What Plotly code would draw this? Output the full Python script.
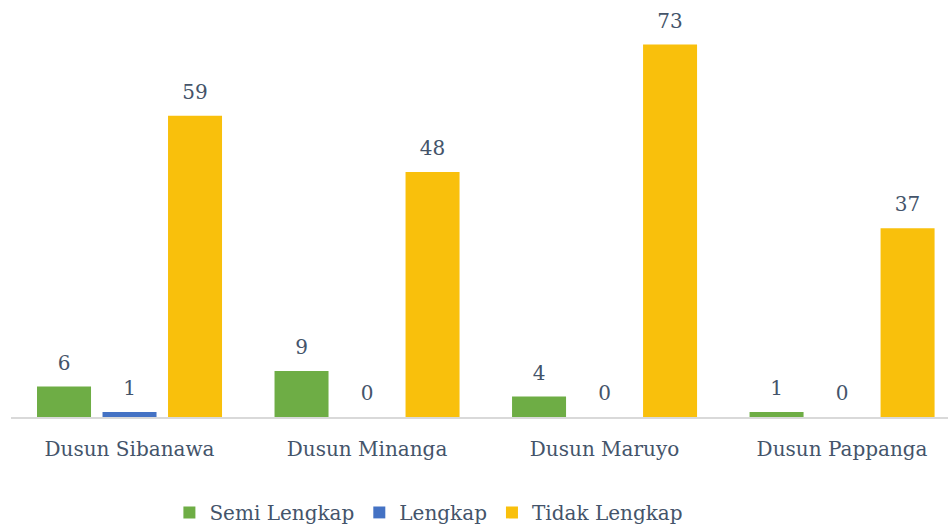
import plotly.graph_objects as go

categories = ["Dusun Sibanawa", "Dusun Minanga", "Dusun Maruyo", "Dusun Pappanga"]
semi_lengkap = [6, 9, 4, 1]
lengkap = [1, 0, 0, 0]
tidak_lengkap = [59, 48, 73, 37]

series_names = ["Semi Lengkap", "Lengkap", "Tidak Lengkap"]
colors = ["#6EAD45", "#4472C4", "#F9C00C"]

FONT = "DejaVu Serif"
TXT = "#44546A"

fig = go.Figure()
for name, vals, col in zip(series_names, [semi_lengkap, lengkap, tidak_lengkap], colors):
    fig.add_trace(go.Bar(
        x=categories, y=vals, name=name,
        marker=dict(color=col, line=dict(width=0)),
        text=[f"<span style='font-size:20px'>{v}</span><br> " for v in vals],
        textposition="outside", constraintext="none",
        textfont=dict(family=FONT, size=9, color=TXT),
        cliponaxis=False,
    ))

fig.update_layout(
    width=949, height=527,
    margin=dict(l=11, r=1, t=0, b=110, autoexpand=False),
    paper_bgcolor="white", plot_bgcolor="white",
    barmode="group", bargap=0.1726, bargroupgap=0.1756,
    font=dict(family=FONT, size=20, color=TXT),
    showlegend=True,
    legend=dict(orientation="h", x=0.446, xanchor="center", y=-0.182, yanchor="top",
                font=dict(family=FONT, size=20, color=TXT), traceorder="normal",
                itemwidth=30),
)
fig.update_xaxes(
    range=[-0.499, 3.446], showline=True, linecolor="#D9D9D9", linewidth=2,
    showgrid=False, ticks="", ticklabelstandoff=13, automargin=False,
    tickfont=dict(family=FONT, size=20, color=TXT),
)
fig.update_yaxes(range=[0, 81.7], visible=False, showgrid=False, zeroline=False,
                 automargin=False)

fig.write_html("out.html", config={"displayModeBar": False},
               post_script="document.body.style.margin='0';document.body.style.padding='0';")
